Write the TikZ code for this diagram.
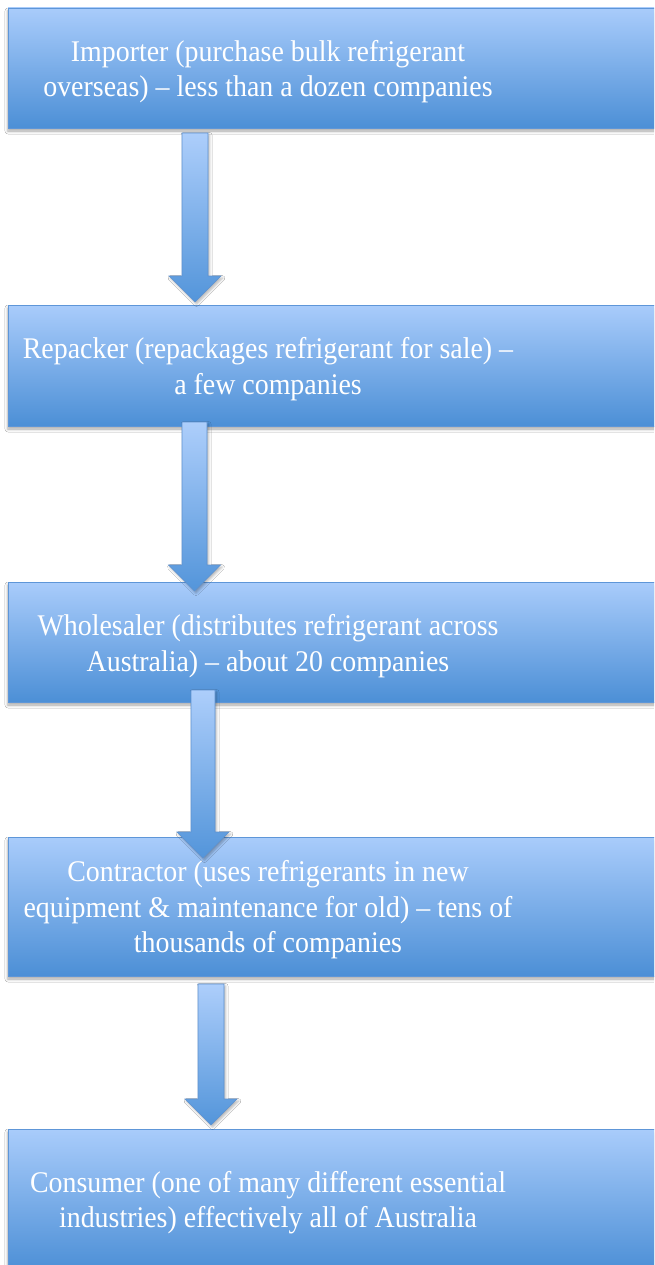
\documentclass[tikz,border=0pt]{standalone}
\usepackage{fontspec}
\setmainfont[FakeStretch=0.93]{Liberation Serif}
\usetikzlibrary{calc,shadows.blur}
\definecolor{boxtop}{HTML}{A9CCFB}
\definecolor{boxbot}{HTML}{4C8FD6}
\definecolor{boxline}{HTML}{5E96D8}
\definecolor{arrtop}{HTML}{ADCEFB}
\definecolor{arrbot}{HTML}{5395DA}
\definecolor{arrline}{HTML}{5E92D0}
\newcommand\fatconnector[3]{%
  \path[fatarrow] ($(#1)+(-#3,0)$) -- ($(#1)+(#3,0)$) -- ($(#2)+(#3,-26)$) -- ($(#2)+(26,-26)$) -- (#2) -- ($(#2)+(-26,-26)$) -- ($(#2)+(-#3,-26)$) -- cycle;}
\begin{document}
\begin{tikzpicture}[x=1pt,y=-1pt,
  flowbox/.style={rectangle, draw=boxline, line width=0.8pt, top color=boxtop, bottom color=boxbot,
    blur shadow={shadow xshift=0pt, shadow yshift=-3pt, shadow blur radius=3pt, shadow opacity=35},
    inner sep=0pt},
  boxtext/.style={text=white, font=\fontsize{30}{35.5}\selectfont, align=center, inner sep=0pt},
  fatarrow/.style={top color=arrtop, bottom color=arrbot, draw=arrline, line width=0.6pt, line join=miter,
    blur shadow={shadow xshift=1.5pt, shadow yshift=-2pt, shadow blur radius=2.5pt, shadow opacity=30}}]
\useasboundingbox (0,0) rectangle (654,1265);
\clip (0,0) rectangle (654,1265);
\fill[white] (0,0) rectangle (654,1265);
% boxes
\node[flowbox, minimum width=692pt, minimum height=120pt] (b1) at (354,68) {};
\node[flowbox, minimum width=692pt, minimum height=121pt] (b2) at (354,365.5) {};
\node[flowbox, minimum width=692pt, minimum height=120pt] (b3) at (354,642) {};
\node[flowbox, minimum width=692pt, minimum height=139pt] (b4) at (354,906.5) {};
\node[flowbox, minimum width=692pt, minimum height=142pt] (b5) at (354,1200) {};
% texts
\node[boxtext] (t1) at (268,71.5) {Importer (purchase bulk refrigerant\\overseas) -- less than a dozen companies};
\node[boxtext] (t2) at (268,369) {Repacker (repackages refrigerant for sale) --\\a few companies};
\node[boxtext] (t3) at (268,646) {Wholesaler (distributes refrigerant across\\Australia) -- about 20 companies};
\node[boxtext] (t4) at (268,910) {Contractor (uses refrigerants in new\\equipment \& maintenance for old) -- tens of\\thousands of companies};
\node[boxtext] (t5) at (268,1202.5) {Consumer (one of many different essential\\industries) effectively all of Australia};
% connectors
\coordinate (a1s) at (195,133);   \coordinate (a1e) at (195,302);
\coordinate (a2s) at (194.5,422); \coordinate (a2e) at (194.5,591);
\coordinate (a3s) at (203,690);   \coordinate (a3e) at (203,858);
\coordinate (a4s) at (211,984);   \coordinate (a4e) at (211,1125);
\fatconnector{a1s}{a1e}{13}
\fatconnector{a2s}{a2e}{12.5}
\fatconnector{a3s}{a3e}{12}
\fatconnector{a4s}{a4e}{13}
\end{tikzpicture}
\end{document}
